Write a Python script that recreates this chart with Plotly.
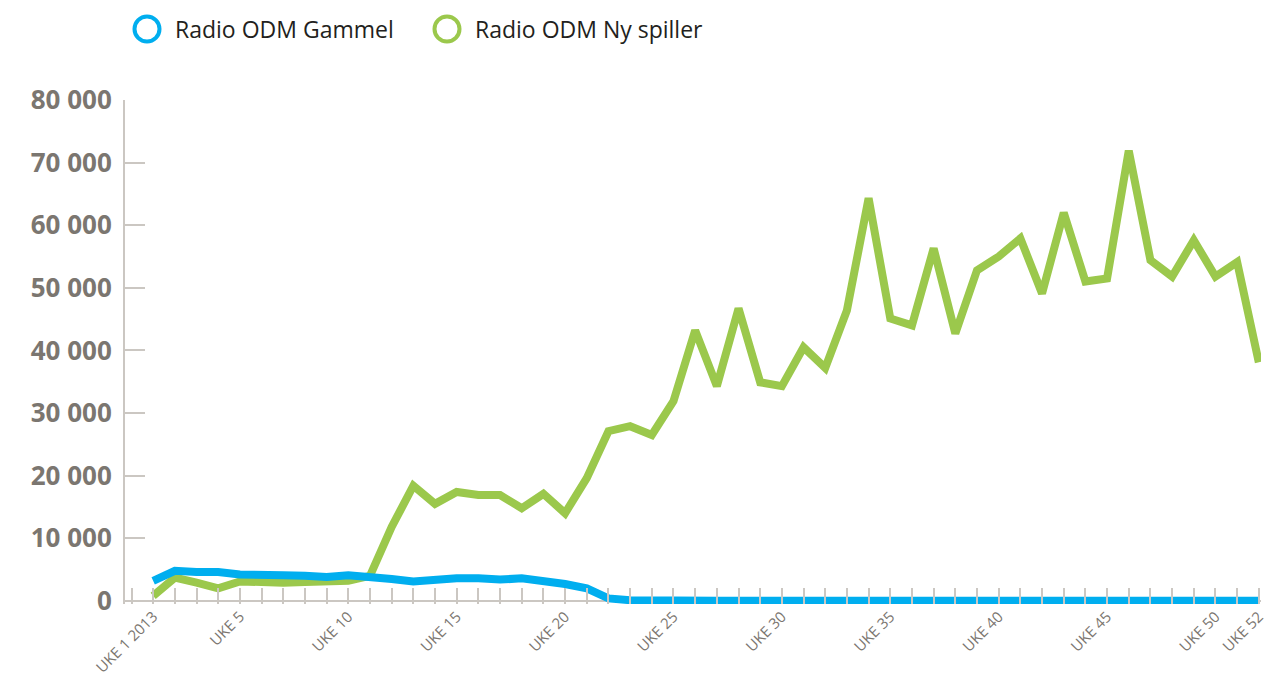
import plotly.graph_objects as go

weeks = list(range(1, 53))
tick_weeks = [1, 5, 10, 15, 20, 25, 30, 35, 40, 45, 50, 52]
tick_labels = ["UKE 1 2013", "UKE 5", "UKE 10", "UKE 15", "UKE 20", "UKE 25",
               "UKE 30", "UKE 35", "UKE 40", "UKE 45", "UKE 50", "UKE 52"]

gammel = [3200, 4800, 4600, 4600, 4200, 4000, 4100, 4000, 3800, 4100,
          3900, 3500, 3100, 3500, 3600, 3600, 3400, 3600, 3200, 2700,
          2000, 400, 100, 0, 0, 0, 0, 0, 0, 0,
          0, 0, 0, 0, 0, 0, 0, 0, 0, 0,
          0, 0, 0, 0, 0, 0, 0, 0, 0, 0,
          0, 0]
ny_spiller = [800, 3700, 2900, 2000, 3100, 2900, 2900, 3000, 3100, 3200,
              4000, 11800, 18400, 15500, 17400, 16900, 16900, 14800, 17100, 14000,
              19600, 27100, 27900, 26500, 31900, 43200, 34300, 46700, 34900, 34300,
              40500, 37200, 46400, 64300, 45100, 44000, 56300, 42700, 52800, 55000,
              57900, 49100, 62000, 51000, 51500, 71900, 54400, 51800, 57600, 51800,
              54100, 38100]

y_ticks = [0, 10000, 20000, 30000, 40000, 50000, 60000, 70000, 80000]
y_labels = ["0", "10 000", "20 000", "30 000", "40 000", "50 000", "60 000", "70 000", "80 000"]

series_names = ["Radio ODM Gammel", "Radio ODM Ny spiller"]
BLUE = "#00AEEF"
GREEN = "#9BC84C"
GREY = "#CBC7C2"
LABEL = "#7B7670"

W, H = 1259, 674
ML, MR, MT, MB = 117, 6, 92, 78
PW, PH = W - ML - MR, H - MT - MB

fig = go.Figure()
fig.add_trace(go.Scatter(x=weeks, y=ny_spiller, mode="lines", name=series_names[1],
                         line=dict(color=GREEN, width=8), showlegend=False))
fig.add_trace(go.Scatter(x=weeks, y=gammel, mode="lines", name=series_names[0],
                         line=dict(color=BLUE, width=8), showlegend=False))

# manual legend (hollow circles + text)
for cx, tx, col, name in [(139, 165, BLUE, series_names[0]), (439, 465, GREEN, series_names[1])]:
    r = 12.5
    cy = 21
    fig.add_shape(type="circle", xref="paper", yref="paper",
                  x0=(cx - r - ML) / PW, x1=(cx + r - ML) / PW,
                  y0=(H - MB - cy - r) / PH, y1=(H - MB - cy + r) / PH,
                  line=dict(color=col, width=4))
    fig.add_annotation(text=name, xref="paper", yref="paper",
                       x=(tx - ML) / PW, y=(H - MB - cy) / PH,
                       xanchor="left", yanchor="middle", showarrow=False,
                       font=dict(size=23, color="#231F20", family="Open Sans"))

fig.update_layout(
    width=W, height=H,
    margin=dict(l=ML, r=MR, t=MT, b=MB),
    paper_bgcolor="white", plot_bgcolor="white",
    font=dict(family="Open Sans", color=LABEL),
)
fig.update_xaxes(
    range=[-0.3, 52.1],
    tickmode="array", tickvals=tick_weeks, ticktext=tick_labels,
    tickangle=-45, tickfont=dict(size=15, color=LABEL, family="Open Sans"),
    ticks="inside", ticklen=16, tickwidth=2, tickcolor=GREY,
    minor=dict(dtick=1, tick0=0, ticks="inside", ticklen=16, tickwidth=2, tickcolor=GREY),
    showgrid=False, zeroline=False, showline=False,
    automargin=False, ticklabeloverflow="allow",
)
fig.update_yaxes(
    range=[-500, 80000],
    tickmode="array", tickvals=y_ticks, ticktext=y_labels,
    tickfont=dict(size=26, color=LABEL, family="Open Sans", weight="bold"),
    ticks="inside", ticklen=20, tickwidth=2, tickcolor=GREY,
    ticklabelstandoff=6,
    showgrid=False, zeroline=True, zerolinecolor=GREY, zerolinewidth=2,
    showline=True, linecolor=GREY, linewidth=2,
    automargin=False,
)

fig.write_html("out.html")
